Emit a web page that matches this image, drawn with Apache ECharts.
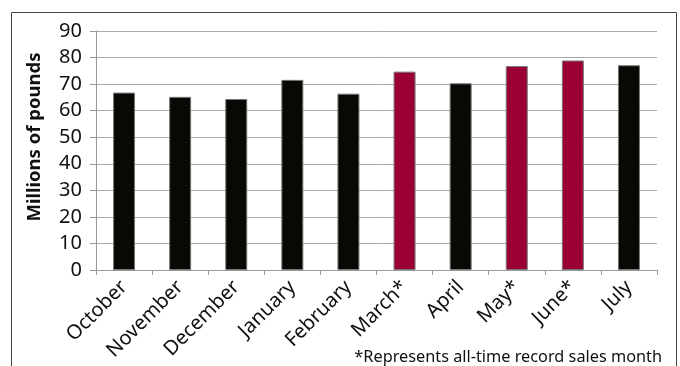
<!DOCTYPE html>
<html>
<head>
<meta charset="utf-8">
<script src="https://cdn.jsdelivr.net/npm/echarts@6/dist/echarts.min.js"></script>
<style>
  html, body { margin: 0; padding: 0; background: #fff; }
  #chart { width: 680px; height: 366px; }
</style>
</head>
<body>
<div id="chart"></div>
<script>
// monthly sales, millions of pounds
var months = ["October", "November", "December", "January", "February", "March*", "April", "May*", "June*", "July"];
var sales = [66.8, 65.2, 64.4, 71.6, 66.4, 74.7, 70.3, 76.8, 78.9, 77.1];
var recordMonth = [false, false, false, false, false, true, false, true, true, false];
var yTicks = { min: 0, max: 90, step: 10 };

var chart = echarts.init(document.getElementById("chart"));

var barData = sales.map(function (v, i) {
  return {
    value: v,
    itemStyle: { color: recordMonth[i] ? "#9b0033" : "#0a0804" }
  };
});

chart.setOption({
  animation: false,
  textStyle: { fontFamily: "Noto Sans" },
  grid: { left: 96, right: 23, top: 31, bottom: 96 },
  graphic: [
    {
      type: "rect",
      shape: { x: 11.5, y: 12.5, width: 665, height: 400 },
      style: { fill: null, stroke: "#444", lineWidth: 1 },
      silent: true
    },
    {
      type: "text",
      x: 35,
      y: 137,
      rotation: Math.PI / 2,
      style: {
        text: "Millions of pounds",
        fontFamily: "Noto Sans",
        fontWeight: "bold",
        fontSize: 18.5,
        fill: "#111",
        align: "center",
        verticalAlign: "middle"
      }
    },
    {
      type: "text",
      x: 662,
      y: 357,
      style: {
        text: "*Represents all-time record sales month",
        fontFamily: "Noto Sans",
        fontSize: 16.3,
        fill: "#111",
        align: "right",
        verticalAlign: "middle"
      }
    }
  ],
  xAxis: {
    type: "category",
    data: months,
    axisLine: { lineStyle: { color: "#999" } },
    axisTick: { show: true, length: 5, lineStyle: { color: "#999" } },
    axisLabel: {
      rotate: 45,
      interval: 0,
      margin: 14,
      fontSize: 20,
      color: "#111"
    }
  },
  yAxis: {
    type: "value",
    min: yTicks.min,
    max: yTicks.max,
    interval: yTicks.step,
    axisLine: { show: true, lineStyle: { color: "#999" } },
    axisTick: { show: true, length: 6, lineStyle: { color: "#999" } },
    axisLabel: { fontSize: 20, color: "#111", margin: 14 },
    splitLine: { lineStyle: { color: "#a8a8a8" } }
  },
  series: [
    {
      type: "bar",
      data: barData,
      barWidth: 22,
      itemStyle: { borderColor: "#777", borderWidth: 1 }
    }
  ]
});
</script>
</body>
</html>
